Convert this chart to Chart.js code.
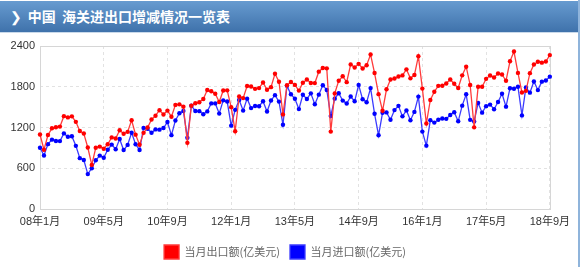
<!DOCTYPE html>
<html>
<head>
<meta charset="utf-8">
<script src="https://cdn.jsdelivr.net/npm/chart.js@4.4.1/dist/chart.umd.min.js"></script>
<style>
  body { margin: 0; width: 580px; height: 267px; background: #fff; overflow: hidden; position: relative; }
  .header {
    position: absolute; left: 0; top: 1px; width: 578px; height: 31px;
    background: linear-gradient(#679bd0, #3f72ab);
    border-bottom: 1px solid #c9d9ea;
    color: #fff; font: bold 14px "Noto Sans CJK SC", sans-serif; line-height: 31px;
  }
  .header .arrow { display: inline-block; margin-left: 10px; margin-right: 6px; font-family: "DejaVu Sans", sans-serif; }
  .edge { position: absolute; right: 0; top: 0; width: 2px; height: 267px; background: #8fb4db; }
  #wrap { position: absolute; left: 0; top: 33px; }
</style>
</head>
<body>
<div class="header"><span class="arrow">&#x276F;</span>中国&nbsp;&nbsp;海关进出口增减情况一览表</div>
<div class="edge"></div>
<div id="wrap"><canvas id="tradeChart" width="576" height="238"></canvas></div>
<script>
// 年份與月份 (2008年1月 ~ 2018年9月)
const years = ['08', '09', '10', '11', '12', '13', '14', '15', '16', '17', '18'];
const months = [];
years.forEach(y => {
  const last = y === '18' ? 9 : 12;
  for (let m = 1; m <= last; m++) months.push(y + '年' + m + '月');
});

// 只顯示這些刻度
const tickLabels = ['08年1月', '09年5月', '10年9月', '12年1月', '13年5月', '14年9月', '16年1月', '17年5月', '18年9月'];

// 當月出口額 (亿美元)
const exportVals = [
  1097, 873, 1089, 1188, 1204, 1213, 1367, 1349, 1364, 1283, 1149, 1111,
  905, 649, 902, 919, 888, 954, 1054, 1037, 1159, 1108, 1136, 1307,
  1095, 945, 1121, 1199, 1317, 1374, 1455, 1392, 1449, 1359, 1533, 1541,
  1507, 974, 1522, 1557, 1572, 1619, 1752, 1733, 1696, 1575, 1745, 1747,
  1500, 1145, 1657, 1633, 1812, 1803, 1769, 1780, 1863, 1755, 1794, 1992,
  1873, 1393, 1821, 1871, 1827, 1743, 1860, 1906, 1856, 1854, 2022, 2077,
  2071, 1140, 1702, 1889, 1955, 1868, 2129, 2084, 2137, 2069, 2117, 2275,
  2002, 1691, 1446, 1763, 1907, 1921, 1950, 1967, 2056, 1924, 1972, 2250,
  1773, 1259, 1605, 1727, 1813, 1814, 1847, 1906, 1845, 1781, 1968, 2095,
  1826, 1202, 1801, 1801, 1916, 1965, 1936, 1994, 1981, 1888, 2175, 2318,
  2004, 1715, 1740, 2000, 2127, 2167, 2155, 2171, 2266
];

// 當月進口額 (亿美元)
const importVals = [
  901, 788, 955, 1021, 1002, 1000, 1113, 1063, 1071, 930, 749, 721,
  514, 601, 717, 786, 754, 872, 948, 880, 1030, 868, 944, 1123,
  953, 869, 1194, 1182, 1122, 1172, 1168, 1192, 1280, 1087, 1304, 1410,
  1442, 1048, 1522, 1443, 1441, 1395, 1437, 1555, 1555, 1405, 1600, 1582,
  1227, 1460, 1604, 1449, 1625, 1486, 1517, 1513, 1586, 1435, 1598, 1676,
  1581, 1240, 1813, 1689, 1623, 1471, 1682, 1620, 1703, 1543, 1684, 1821,
  1753, 1370, 1625, 1704, 1596, 1553, 1656, 1586, 1827, 1615, 1571, 1780,
  1402, 1085, 1416, 1422, 1315, 1456, 1519, 1364, 1452, 1307, 1430, 1655,
  1140, 933, 1308, 1272, 1314, 1332, 1327, 1383, 1425, 1291, 1522, 1689,
  1313, 1290, 1562, 1419, 1514, 1537, 1469, 1575, 1696, 1507, 1779, 1771,
  1801, 1378, 1790, 1713, 1878, 1751, 1875, 1893, 1949
];

const yTicks = [0, 600, 1200, 1800, 2400];

// 畫出繪圖區外框
const frame = {
  id: 'frame',
  beforeDatasetsDraw(chart) {
    const { ctx, chartArea: a } = chart;
    ctx.save();
    ctx.strokeStyle = '#d6d6d6';
    ctx.lineWidth = 1;
    ctx.strokeRect(Math.round(a.left) + 0.5, Math.round(a.top) + 0.5, Math.round(a.right - a.left), Math.round(a.bottom - a.top));
    ctx.restore();
  }
};

// 圖例稍微往右移
const legendShift = {
  id: 'legendShift',
  afterLayout(chart) {
    chart.legend.left += 10;
    chart.legend.right += 10;
  }
};

const ctx = document.getElementById('tradeChart').getContext('2d');
new Chart(ctx, {
  type: 'line',
  data: {
    labels: months,
    datasets: [{
      label: '当月出口额(亿美元)',
      data: exportVals,
      borderColor: '#ff3b3b',
      backgroundColor: '#ff0000',
      pointBackgroundColor: '#ff0000',
      borderWidth: 1.3,
      pointRadius: 2.2,
      pointBorderWidth: 0,
      tension: 0
    }, {
      label: '当月进口额(亿美元)',
      data: importVals,
      borderColor: '#3b3bff',
      backgroundColor: '#0000ff',
      pointBackgroundColor: '#0000ff',
      borderWidth: 1.3,
      pointRadius: 2.2,
      pointBorderWidth: 0,
      tension: 0
    }]
  },
  options: {
    responsive: false,
    animation: false,
    devicePixelRatio: 1,
    layout: { padding: { top: 13, right: 26, left: 0, bottom: 2 } },
    plugins: {
      tooltip: { enabled: false },
      legend: {
        position: 'bottom',
        labels: {
          boxWidth: 15,
          boxHeight: 14,
          padding: 10,
          color: '#666',
          font: { family: '"Noto Sans CJK SC", sans-serif', size: 11 }
        }
      }
    },
    scales: {
      x: {
        afterFit: s => { s.height = 26; },
        grid: {
          drawTicks: false,
          color: c => tickLabels.includes(months[c.index]) ? '#e2e2e2' : 'rgba(0,0,0,0)'
        },
        border: { display: false, dash: [3, 3] },
        ticks: {
          autoSkip: false,
          maxRotation: 0,
          padding: 6,
          color: '#333',
          font: { family: '"Liberation Sans", "Noto Sans CJK SC", sans-serif', size: 11 },
          callback: (v, i) => tickLabels.includes(months[i]) ? months[i] : ''
        }
      },
      y: {
        min: 0,
        max: 2400,
        afterFit: s => { s.width = 40; },
        afterBuildTicks: s => { s.ticks = yTicks.map(v => ({ value: v })); },
        grid: { drawTicks: false, color: '#e2e2e2' },
        border: { display: false, dash: [3, 3] },
        ticks: {
          padding: 5,
          color: '#333',
          font: { family: '"Liberation Sans", sans-serif', size: 11 },
          callback: v => String(v)
        }
      }
    }
  },
  plugins: [frame, legendShift]
});
</script>
</body>
</html>
